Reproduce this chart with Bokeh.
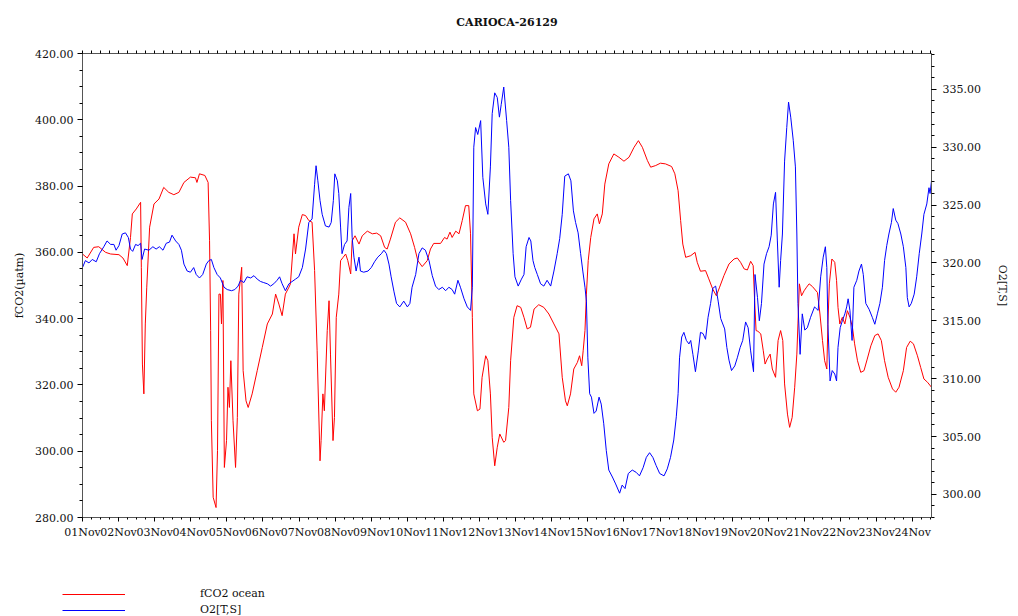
from bokeh.plotting import figure
from bokeh.layouts import column, row
from bokeh.models import (Range1d, LinearAxis, FixedTicker, Legend, LegendItem,
                          PrintfTickFormatter, Label)
from bokeh.embed import file_html
from bokeh.resources import INLINE

# ---------------- data (days since 01 Nov 00:00) ----------------
title_text = "CARIOCA-26129"
day_labels = ["01Nov", "02Nov", "03Nov", "04Nov", "05Nov", "06Nov", "07Nov", "08Nov",
              "09Nov", "10Nov", "11Nov", "12Nov", "13Nov", "14Nov", "15Nov", "16Nov",
              "17Nov", "18Nov", "19Nov", "20Nov", "21Nov", "22Nov", "23Nov", "24Nov"]
left_ticks = [280, 300, 320, 340, 360, 380, 400, 420]
right_ticks = [300, 305, 310, 315, 320, 325, 330, 335]
series_names = ["fCO2 ocean", "O2[T,S]"]

fco2_day = [0.00, 0.13, 0.31, 0.45, 0.64, 0.78, 1.01, 1.12, 1.24, 1.33, 1.38, 1.49, 1.61, 1.63,
            1.66, 1.70, 1.74, 1.78, 1.86, 1.98, 2.12, 2.25, 2.39, 2.53, 2.67, 2.81, 2.99, 3.13,
            3.17, 3.24, 3.39, 3.48, 3.52, 3.55, 3.57, 3.62, 3.70, 3.74, 3.78, 3.82, 3.85, 3.89,
            3.93, 3.99, 4.03, 4.07, 4.11, 4.17, 4.24, 4.29, 4.33, 4.41, 4.45, 4.53, 4.59, 4.70,
            4.84, 4.98, 5.12, 5.26, 5.35, 5.44, 5.53, 5.62, 5.72, 5.76, 5.86, 5.90, 5.99, 6.09,
            6.18, 6.27, 6.36, 6.43, 6.50, 6.58, 6.61, 6.66, 6.70, 6.78, 6.83, 6.87, 6.94, 6.98,
            7.03, 7.10, 7.15, 7.22, 7.29, 7.35, 7.43, 7.47, 7.55, 7.66, 7.75, 7.89, 8.03, 8.15,
            8.26, 8.37, 8.44, 8.53, 8.67, 8.79, 8.95, 9.09, 9.20, 9.29, 9.41, 9.55, 9.64, 9.73,
            9.92, 10.03, 10.10, 10.18, 10.24, 10.34, 10.43, 10.52, 10.61, 10.70, 10.75, 10.80,
            10.84, 10.94, 11.01, 11.07, 11.17, 11.23, 11.30, 11.35, 11.42, 11.49, 11.56, 11.67,
            11.72, 11.81, 11.86, 11.95, 12.04, 12.14, 12.23, 12.32, 12.41, 12.51, 12.64, 12.78,
            12.92, 13.06, 13.20, 13.29, 13.38, 13.43, 13.52, 13.61, 13.71, 13.77, 13.83, 13.87,
            13.92, 13.96, 14.01, 14.08, 14.17, 14.26, 14.32, 14.40, 14.47, 14.58, 14.72, 14.86,
            15.00, 15.14, 15.28, 15.40, 15.51, 15.65, 15.74, 15.88, 16.01, 16.15, 16.32, 16.41,
            16.50, 16.57, 16.63, 16.71, 16.85, 16.97, 17.03, 17.12, 17.26, 17.35, 17.46, 17.56,
            17.65, 17.77, 17.91, 18.05, 18.14, 18.23, 18.33, 18.42, 18.51, 18.58, 18.62, 18.66,
            18.71, 18.79, 18.86, 18.91, 18.97, 19.05, 19.11, 19.20, 19.27, 19.34, 19.40, 19.45,
            19.53, 19.59, 19.66, 19.73, 19.79, 19.82, 19.86, 19.92, 19.99, 20.06, 20.13, 20.22,
            20.36, 20.43, 20.50, 20.56, 20.62, 20.65, 20.69, 20.76, 20.84, 20.89, 20.93, 20.98,
            21.05, 21.12, 21.19, 21.26, 21.33, 21.39, 21.47, 21.56, 21.65, 21.74, 21.84, 21.95,
            22.04, 22.13, 22.22, 22.32, 22.44, 22.53, 22.62, 22.74, 22.83, 22.93, 23.02, 23.13,
            23.22, 23.31, 23.41, 23.52]
fco2_val = [359.5, 358.3, 361.5, 361.7, 360.0, 359.5, 359.3, 358.3, 356.0, 364.5, 371.6, 373.1,
            375.1, 355.5, 326.3, 317.3, 338.4, 349.5, 367.6, 374.6, 376.1, 379.6, 378.1, 377.4,
            378.1, 381.1, 382.7, 382.5, 381.1, 383.7, 383.2, 381.1, 363.5, 336.4, 309.2, 286.1,
            283.0, 300.2, 347.4, 347.4, 338.4, 351.5, 295.1, 303.2, 319.3, 313.2, 327.3, 309.2,
            295.1, 310.2, 347.4, 355.5, 324.3, 315.2, 313.2, 317.3, 324.3, 331.3, 338.4, 341.4,
            347.4, 344.4, 340.9, 347.4, 349.5, 350.5, 365.6, 359.5, 367.6, 371.4, 371.1, 369.6,
            369.1, 354.5, 330.3, 297.1, 303.2, 317.3, 312.2, 336.4, 345.4, 329.3, 303.2, 310.2,
            340.4, 347.4, 357.5, 358.5, 359.5, 357.5, 353.5, 363.5, 365.0, 362.5, 365.0, 366.4,
            365.6, 365.8, 365.0, 361.5, 361.0, 364.0, 369.1, 370.4, 369.1, 365.6, 361.5, 357.5,
            355.7, 357.5, 361.0, 362.7, 362.7, 364.5, 364.0, 366.1, 364.5, 366.4, 365.6, 369.6,
            374.1, 374.1, 365.6, 340.4, 317.3, 312.2, 312.7, 322.3, 328.8, 327.3, 317.3, 304.2,
            295.6, 301.2, 305.2, 302.7, 303.2, 313.2, 327.3, 340.4, 343.9, 343.4, 340.4, 336.9,
            337.4, 342.9, 344.2, 343.4, 341.4, 338.4, 335.4, 322.3, 315.2, 313.7, 317.3, 324.8,
            326.8, 328.8, 325.8, 330.3, 336.4, 347.4, 357.5, 364.5, 370.1, 371.6, 368.6, 371.6,
            380.6, 386.7, 389.7, 388.7, 387.5, 388.7, 391.7, 393.7, 391.7, 387.7, 385.7, 386.2,
            386.9, 386.7, 385.9, 383.7, 378.6, 369.6, 362.5, 358.5, 359.0, 360.0, 357.0, 354.3,
            354.5, 352.0, 348.9, 346.9, 349.5, 353.0, 356.5, 358.0, 358.3, 357.0, 355.0, 354.7,
            357.3, 356.0, 345.4, 336.4, 336.2, 335.4, 330.3, 326.3, 327.8, 329.3, 324.8, 322.3,
            333.4, 336.4, 333.4, 320.3, 311.2, 307.2, 310.2, 319.3, 329.3, 338.4, 350.5, 346.9,
            348.4, 349.5, 350.5, 349.7, 347.9, 341.4, 333.4, 327.3, 324.8, 338.4, 350.5, 358.0,
            357.0, 351.5, 343.4, 338.4, 340.4, 338.4, 342.4, 340.4, 337.4, 332.4, 327.3, 323.8,
            324.3, 327.8, 331.8, 334.9, 335.4, 333.4, 327.3, 322.3, 318.8, 317.8, 319.3, 324.3,
            331.3, 333.2, 332.4, 328.8, 325.3, 321.8, 320.8, 319.3]

o2_day = [0.00, 0.08, 0.18, 0.27, 0.38, 0.47, 0.59, 0.68, 0.78, 0.87, 0.93, 1.01, 1.10, 1.19,
          1.27, 1.33, 1.39, 1.47, 1.54, 1.61, 1.65, 1.72, 1.84, 1.95, 2.04, 2.13, 2.23, 2.32,
          2.41, 2.48, 2.58, 2.67, 2.74, 2.81, 2.90, 2.99, 3.08, 3.15, 3.24, 3.33, 3.43, 3.50,
          3.57, 3.64, 3.73, 3.82, 3.92, 4.01, 4.13, 4.22, 4.31, 4.38, 4.47, 4.56, 4.66, 4.75,
          4.84, 4.93, 5.02, 5.12, 5.21, 5.30, 5.39, 5.46, 5.53, 5.62, 5.72, 5.90, 5.99, 6.09,
          6.18, 6.27, 6.36, 6.43, 6.47, 6.52, 6.58, 6.64, 6.73, 6.83, 6.89, 6.95, 6.99, 7.06,
          7.10, 7.15, 7.19, 7.26, 7.33, 7.38, 7.43, 7.47, 7.52, 7.58, 7.66, 7.70, 7.79, 7.91,
          8.00, 8.09, 8.18, 8.28, 8.35, 8.42, 8.49, 8.55, 8.63, 8.70, 8.79, 8.90, 9.00, 9.07,
          9.13, 9.23, 9.32, 9.41, 9.50, 9.60, 9.69, 9.78, 9.87, 9.97, 10.06, 10.15, 10.24,
          10.31, 10.40, 10.47, 10.57, 10.66, 10.75, 10.80, 10.84, 10.89, 10.95, 11.03, 11.09,
          11.17, 11.23, 11.30, 11.35, 11.42, 11.49, 11.55, 11.60, 11.67, 11.75, 11.81, 11.86,
          11.93, 11.98, 12.07, 12.16, 12.23, 12.29, 12.37, 12.42, 12.48, 12.53, 12.60, 12.69,
          12.78, 12.87, 12.97, 13.06, 13.15, 13.22, 13.29, 13.36, 13.46, 13.53, 13.60, 13.66,
          13.73, 13.80, 13.86, 13.92, 13.96, 14.00, 14.05, 14.10, 14.17, 14.23, 14.31, 14.37,
          14.44, 14.51, 14.58, 14.68, 14.77, 14.88, 14.95, 15.03, 15.12, 15.23, 15.34, 15.43,
          15.53, 15.62, 15.71, 15.80, 15.89, 15.99, 16.11, 16.20, 16.29, 16.38, 16.45, 16.50,
          16.54, 16.60, 16.66, 16.73, 16.80, 16.85, 16.91, 16.98, 17.06, 17.12, 17.19, 17.26,
          17.33, 17.40, 17.46, 17.54, 17.61, 17.68, 17.79, 17.85, 17.91, 17.98, 18.07, 18.14,
          18.22, 18.29, 18.37, 18.44, 18.51, 18.59, 18.63, 18.70, 18.75, 18.81, 18.88, 18.95,
          19.02, 19.08, 19.14, 19.20, 19.25, 19.30, 19.34, 19.39, 19.45, 19.51, 19.56, 19.62,
          19.69, 19.75, 19.79, 19.82, 19.88, 19.94, 20.01, 20.08, 20.17, 20.28, 20.38, 20.45,
          20.52, 20.58, 20.62, 20.65, 20.71, 20.77, 20.84, 20.89, 20.93, 20.99, 21.05, 21.12,
          21.17, 21.21, 21.26, 21.32, 21.37, 21.45, 21.51, 21.58, 21.63, 21.70, 21.79, 21.88,
          21.95, 22.02, 22.09, 22.16, 22.22, 22.28, 22.34, 22.41, 22.46, 22.53, 22.59, 22.67,
          22.74, 22.81, 22.85, 22.90, 22.96, 23.04, 23.11, 23.18, 23.25, 23.31, 23.39, 23.45,
          23.48, 23.52]
o2_val = [319.6, 320.2, 320.0, 320.3, 320.1, 320.8, 321.4, 321.9, 321.6, 321.6, 321.1, 321.5,
          322.5, 322.6, 322.2, 321.2, 321.0, 321.6, 321.5, 321.7, 320.3, 321.2, 321.1, 321.4,
          321.2, 321.4, 321.1, 321.7, 321.8, 322.4, 321.9, 321.6, 321.1, 319.9, 319.3, 319.2,
          319.6, 319.0, 318.7, 319.0, 319.9, 320.2, 320.3, 319.6, 319.0, 318.7, 317.9, 317.7,
          317.6, 317.7, 318.0, 318.5, 318.3, 318.8, 318.7, 318.9, 318.6, 318.4, 318.3, 318.2,
          318.0, 318.2, 318.5, 318.8, 318.2, 317.6, 318.2, 318.6, 318.8, 319.6, 321.2, 323.5,
          323.8, 326.8, 328.4, 327.1, 325.4, 324.2, 323.2, 323.1, 323.5, 325.4, 327.7, 327.1,
          326.0, 323.1, 320.8, 321.6, 321.9, 324.8, 326.0, 322.2, 320.5, 319.3, 320.5, 319.3,
          319.2, 319.3, 319.6, 320.1, 320.5, 320.8, 321.1, 320.8, 319.9, 318.8, 317.5, 316.5,
          316.2, 316.7, 316.2, 316.5, 317.9, 319.0, 320.8, 321.3, 321.1, 320.2, 318.9, 318.0,
          317.7, 317.9, 317.6, 317.9, 317.7, 317.3, 318.5, 317.9, 316.9, 316.2, 315.9, 317.9,
          330.0, 331.7, 331.1, 332.3, 327.4, 325.1, 324.2, 328.3, 332.9, 334.7, 334.3, 332.6,
          333.7, 335.2, 332.3, 330.0, 325.4, 320.8, 318.8, 318.0, 318.6, 319.0, 321.4, 322.2,
          321.9, 320.2, 319.6, 319.0, 318.2, 318.0, 318.5, 318.0, 319.3, 320.8, 322.1, 324.2,
          327.5, 327.7, 327.1, 324.5, 323.5, 322.6, 320.8, 319.3, 317.9, 316.7, 311.8, 308.7,
          308.4, 307.0, 307.2, 308.4, 307.8, 306.1, 303.8, 302.1, 301.5, 300.9, 300.1, 300.8,
          300.5, 301.8, 302.1, 301.9, 301.6, 302.3, 303.2, 303.6, 303.2, 302.5, 301.8, 301.6,
          302.2, 303.2, 304.7, 306.7, 308.7, 311.8, 313.6, 314.0, 313.3, 313.0, 313.3, 312.1,
          310.6, 312.4, 314.0, 313.9, 313.4, 315.3, 316.5, 317.8, 318.0, 316.7, 315.2, 314.3,
          312.7, 311.6, 310.7, 311.1, 311.8, 312.7, 313.3, 314.9, 314.4, 312.4, 310.6, 319.0,
          317.0, 315.0, 316.5, 319.9, 320.8, 321.4, 322.4, 325.1, 326.1, 321.9, 317.9, 320.2,
          322.5, 328.8, 331.7, 333.9, 332.6, 330.6, 328.3, 322.5, 316.5, 312.1, 315.6, 314.2,
          314.4, 315.3, 316.2, 315.9, 318.8, 320.5, 321.4, 319.6, 314.7, 309.8, 310.7, 310.4,
          309.8, 312.7, 314.4, 315.0, 315.6, 316.2, 316.9, 315.9, 313.3, 317.9, 318.5, 319.3,
          319.9, 319.0, 316.5, 316.0, 315.3, 314.7, 315.6, 316.5, 317.9, 320.2, 321.5, 322.5,
          323.5, 324.7, 323.7, 323.4, 322.5, 321.4, 319.6, 317.0, 316.2, 316.5, 317.3, 318.8,
          320.8, 322.5, 324.2, 325.1, 326.5, 326.0, 327.1]

# ---------------- styles ----------------
FONT = "DejaVu Serif"
AXIS_COLOR = "#555555"
TEXT_COLOR = "#111111"
RED = "#ff0000"
BLUE = "#0000ff"


def strip(height):
    f = figure(width=1018, height=height, x_range=Range1d(0, 1), y_range=Range1d(0, 1),
               output_backend="svg", toolbar_location=None,
               min_border_left=0, min_border_right=0, min_border_top=0, min_border_bottom=0)
    f.axis.visible = False
    f.grid.visible = False
    f.outline_line_color = None
    f.background_fill_color = "white"
    f.border_fill_color = "white"
    return f


# ---------------- title strip ----------------
ts = strip(36)
ts.add_layout(Label(x=0.5, y=14 / 36, text=title_text, text_align="center",
                    text_baseline="middle", text_font=FONT, text_font_size="11px",
                    text_font_style="bold", text_color=TEXT_COLOR))

# ---------------- main figure ----------------
p = figure(width=1018, height=534, x_range=Range1d(0, 23.52), y_range=Range1d(280, 420),
           output_backend="svg", toolbar_location=None,
           min_border_left=82, min_border_right=87, min_border_top=17, min_border_bottom=53)
p.grid.visible = False
p.outline_line_color = AXIS_COLOR
p.background_fill_color = "white"
p.border_fill_color = "white"

# x axis
quarter_days = [i * 0.25 for i in range(95)]
x_ticker = FixedTicker(ticks=list(range(len(day_labels))), minor_ticks=quarter_days)
xax = p.xaxis[0]
xax.ticker = x_ticker
xax.major_label_overrides = {i: lab for i, lab in enumerate(day_labels)}
xax.major_label_text_font = FONT
xax.major_label_text_font_size = "11px"
xax.major_label_text_color = TEXT_COLOR
xax.major_label_standoff = 4
xax.major_tick_out = 4
xax.major_tick_in = 0
xax.minor_tick_out = 2
xax.minor_tick_in = 0
xax.axis_line_color = AXIS_COLOR

# top axis: tick marks only (no major ticks -> no labels)
top_ax = LinearAxis(ticker=FixedTicker(ticks=[], minor_ticks=quarter_days),
                    major_tick_out=0, major_tick_in=0, minor_tick_out=3, minor_tick_in=0,
                    axis_line_color=AXIS_COLOR, major_label_standoff=0)
p.add_layout(top_ax, "above")

# left axis
yax = p.yaxis[0]
yax.ticker = FixedTicker(ticks=left_ticks, minor_ticks=list(range(280, 421, 5)))
yax.formatter = PrintfTickFormatter(format="%.2f")
yax.axis_label = "fCO2(µatm)"
yax.axis_label_text_font = FONT
yax.axis_label_text_font_size = "11px"
yax.axis_label_text_font_style = "normal"
yax.axis_label_text_color = TEXT_COLOR
yax.axis_label_standoff = 6
yax.major_label_text_font = FONT
yax.major_label_text_font_size = "11px"
yax.major_label_text_color = TEXT_COLOR
yax.major_label_standoff = 4
yax.major_tick_out = 5
yax.major_tick_in = 0
yax.minor_tick_out = 3
yax.minor_tick_in = 0
yax.axis_line_color = AXIS_COLOR

# right axis
p.extra_y_ranges = {"o2": Range1d(298.0, 338.1)}
rax = LinearAxis(y_range_name="o2",
                 ticker=FixedTicker(ticks=right_ticks, minor_ticks=list(range(298, 339))),
                 formatter=PrintfTickFormatter(format="%.2f"),
                 axis_label="O2[T,S]")
rax.axis_label_text_font = FONT
rax.axis_label_text_font_size = "11px"
rax.axis_label_text_font_style = "normal"
rax.axis_label_text_color = TEXT_COLOR
rax.axis_label_standoff = 12
rax.major_label_text_font = FONT
rax.major_label_text_font_size = "11px"
rax.major_label_text_color = TEXT_COLOR
rax.major_label_standoff = 6
rax.major_tick_out = 5
rax.major_tick_in = 0
rax.minor_tick_out = 3
rax.minor_tick_in = 0
rax.axis_line_color = AXIS_COLOR
p.add_layout(rax, "right")

p.line(fco2_day, fco2_val, line_color=RED, line_width=1)
p.line(o2_day, o2_val, line_color=BLUE, line_width=1, y_range_name="o2")

# ---------------- legend strip below ----------------
lg = strip(46)
NAN = float("nan")
k1 = lg.line([NAN], [NAN], line_color=RED, line_width=1)
k2 = lg.line([NAN], [NAN], line_color=BLUE, line_width=1)
legend = Legend(items=[LegendItem(label=series_names[0], renderers=[k1]),
                       LegendItem(label=series_names[1], renderers=[k2])],
                location=(62, 0), orientation="vertical",
                glyph_width=63, glyph_height=12, label_height=12, label_width=80,
                label_standoff=75, spacing=3, padding=0, margin=0,
                border_line_color=None, background_fill_alpha=0,
                label_text_font=FONT, label_text_font_size="11px",
                label_text_color=TEXT_COLOR)
lg.add_layout(legend)

layout = column(ts, p, row(lg, spacing=0), spacing=0)
open("out.html", "w").write(file_html(layout, INLINE))
